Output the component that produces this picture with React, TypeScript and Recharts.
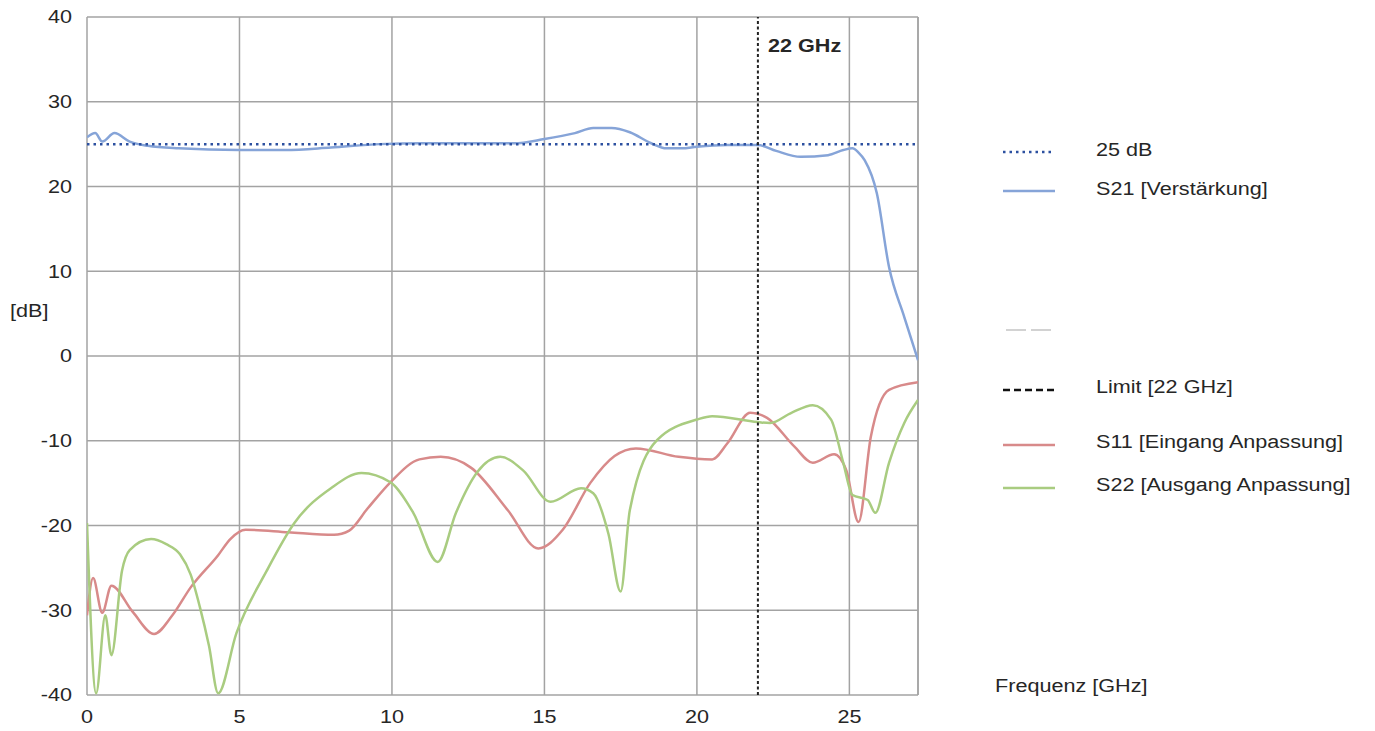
import { CartesianGrid, Line, LineChart, ReferenceLine, XAxis, YAxis } from "recharts";

// S-Parameter
const s21Freq = [0, 0.27, 0.5, 0.9, 1.4, 2.0, 3, 5, 6.5, 8, 9.6, 11, 13, 14, 15, 16, 16.6, 17.2, 17.8, 18.5, 19.0, 19.5, 20, 21, 22, 22.6, 23.4, 24.3, 24.8, 25.1, 25.3, 25.5, 25.9, 26.3, 26.8, 27.25];
const s21Db = [25.8, 26.3, 25.3, 26.3, 25.3, 24.8, 24.5, 24.3, 24.3, 24.6, 25.0, 25.1, 25.1, 25.1, 25.6, 26.3, 26.9, 26.9, 26.4, 25.1, 24.5, 24.5, 24.7, 24.9, 24.9, 24.2, 23.5, 23.7, 24.3, 24.5, 24.0, 23.1, 19.2, 10.5, 4.6, -0.5];

const s11Freq = [0, 0.2, 0.5, 0.8, 1.5, 2.2, 2.8, 3.4, 4.3, 4.7, 5.2, 6.6, 8.1, 8.6, 9.2, 9.95, 10.9, 11.6, 12.6, 13.8, 14.8, 15.6, 16.5, 17.3, 18.0, 19.4, 20.5, 21.0, 21.75, 22.3, 23.2, 23.8, 24.5, 24.9, 25.3, 25.7, 26.3, 27.25];
const s11Db = [-30.6, -26.2, -30.3, -27.1, -30.2, -32.8, -30.6, -27.3, -23.5, -21.6, -20.5, -20.8, -21.1, -20.6, -18, -14.9, -12.2, -11.9, -13.2, -18.2, -22.7, -20.5, -15, -11.8, -10.9, -11.9, -12.2, -10.3, -6.7, -7.3, -10.7, -12.6, -11.6, -13.5, -19.6, -9.6, -4.0, -3.1];

const s22Freq = [0, 0.3, 0.6, 0.8, 1.15, 1.4, 2.1, 2.6, 3.05, 3.4, 3.7, 4.0, 4.3, 4.9, 5.9, 6.8, 8.0, 9.0, 9.95, 10.7, 11.5, 12.1, 12.8, 13.55, 14.3, 15.2, 16.2, 16.6, 17.1, 17.5, 17.8, 18.7, 20, 20.5, 22, 22.4, 23.1, 23.8, 24.4, 24.8, 25.1, 25.6, 25.85, 26.3, 26.8, 27.25];
const s22Db = [-19.7, -39.8, -30.6, -35.3, -25.3, -22.9, -21.6, -22.2, -23.4, -25.8, -29.6, -34.2, -39.8, -32.7, -25.3, -19.7, -15.6, -13.8, -14.9, -18.5, -24.3, -18.5, -13.7, -11.9, -13.5, -17.2, -15.6, -16.2, -21, -27.8, -18.2, -9.9, -7.5, -7.1, -7.8, -7.9, -6.7, -5.8, -7.5, -12.6, -16.4, -17.0, -18.5, -12.6, -7.9, -5.2];

const TARGET_DB = 25;
const LIMIT_GHZ = 22;
const X_MAX = 27.25;
const xTicks = [0, 5, 10, 15, 20, 25];
const yTicks = [-40, -30, -20, -10, 0, 10, 20, 30, 40];

const BLUE = "#86a4d8";
const DARK_BLUE = "#2c50a0";
const RED = "#d88a8a";
const GREEN = "#a9cc80";
const GRID = "#a3a3a3";
const TEXT = "#262626";
const FONT = "'Liberation Sans', Arial, sans-serif";

const toRows = (fs: number[], vs: number[]) => fs.map((f, i) => ({ f, v: vs[i] }));

const XTick = ({ x, y, payload }: any) => (
  <text
    transform={`translate(${x},${y}) scale(1.2,1)`}
    x={0}
    y={28}
    textAnchor="middle"
    fill={TEXT}
    fontSize={18}
    fontFamily={FONT}
  >
    {payload.value}
  </text>
);

const YTick = ({ x, y, payload }: any) => (
  <text
    transform={`translate(${x},${y}) scale(1.2,1)`}
    x={0}
    y={6.4}
    textAnchor="end"
    fill={TEXT}
    fontSize={18}
    fontFamily={FONT}
  >
    {payload.value}
  </text>
);

function Label({ left, top, children, bold }: { left: number; top: number; children: React.ReactNode; bold?: boolean }) {
  return (
    <div
      style={{
        position: "absolute",
        left,
        top,
        fontFamily: FONT,
        fontSize: 18,
        lineHeight: "20px",
        fontWeight: bold ? "bold" : "normal",
        color: TEXT,
        whiteSpace: "nowrap",
        transform: "scaleX(1.2)",
        transformOrigin: "left center",
      }}
    >
      {children}
    </div>
  );
}

function Swatch({ top, color, dash, width = 2.5, x1 = 1003, x2 = 1055 }: { top: number; color: string; dash?: string; width?: number; x1?: number; x2?: number }) {
  return (
    <svg style={{ position: "absolute", left: 0, top: 0, overflow: "visible" }} width={1} height={1}>
      <line x1={x1} x2={x2} y1={top} y2={top} stroke={color} strokeWidth={width} strokeDasharray={dash} />
    </svg>
  );
}

export default function App() {
  return (
    <div style={{ position: "absolute", left: 0, top: 0, width: 1375, height: 731, background: "#fff" }}>
      <LineChart width={1375} height={731} margin={{ top: 17, right: 457, bottom: 0, left: 27 }}>
        <CartesianGrid stroke={GRID} strokeWidth={1.5} />
        <XAxis
          type="number"
          dataKey="f"
          domain={[0, X_MAX]}
          ticks={xTicks}
          allowDataOverflow
          axisLine={false}
          tickLine={false}
          tickSize={0}
          tickMargin={0}
          height={36}
          tick={<XTick />}
        />
        <YAxis
          type="number"
          domain={[-40, 40]}
          ticks={yTicks}
          allowDataOverflow
          axisLine={false}
          tickLine={false}
          tickSize={0}
          tickMargin={15}
          width={60}
          tick={<YTick />}
        />
        <ReferenceLine x={X_MAX} stroke={GRID} strokeWidth={1.5} />
        <Line data={toRows(s11Freq, s11Db)} dataKey="v" type="monotone" stroke={RED} strokeWidth={2.5} dot={false} isAnimationActive={false} />
        <Line data={toRows(s22Freq, s22Db)} dataKey="v" type="monotone" stroke={GREEN} strokeWidth={2.5} dot={false} isAnimationActive={false} />
        <Line data={toRows(s21Freq, s21Db)} dataKey="v" type="monotone" stroke={BLUE} strokeWidth={2.5} dot={false} isAnimationActive={false} />
        <ReferenceLine y={TARGET_DB} stroke={DARK_BLUE} strokeWidth={2.5} strokeDasharray="2.5 4" />
        <ReferenceLine x={LIMIT_GHZ} stroke="#222" strokeWidth={2} strokeDasharray="3 2.5" />
      </LineChart>

      <Label left={768} top={36} bold>22 GHz</Label>
      <Label left={10} top={301}>[dB]</Label>
      <Label left={995} top={676}>Frequenz [GHz]</Label>

      <Swatch top={152} color={DARK_BLUE} dash="2.5 4" />
      <Label left={1096} top={140}>25 dB</Label>
      <Swatch top={191} color={BLUE} />
      <Label left={1096} top={179}>S21 [Verstärkung]</Label>
      <Swatch top={330} color="#c4c4c4" dash="20 5" width={1.5} x1={1006} x2={1051} />
      <Swatch top={390} color="#111" dash="7 4" />
      <Label left={1096} top={377}>Limit [22 GHz]</Label>
      <Swatch top={445} color={RED} />
      <Label left={1096} top={432}>S11 [Eingang Anpassung]</Label>
      <Swatch top={488} color={GREEN} />
      <Label left={1096} top={475}>S22 [Ausgang Anpassung]</Label>
    </div>
  );
}
